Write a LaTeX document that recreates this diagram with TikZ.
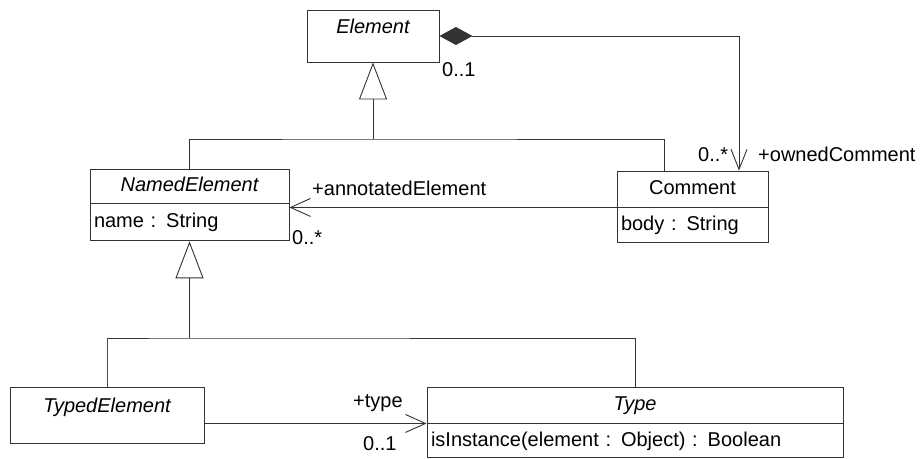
\documentclass[tikz,border=0pt]{standalone}
\usepackage{fontspec}
\setmainfont{Liberation Sans}
\usetikzlibrary{positioning,arrows.meta}

\definecolor{linkred}{RGB}{170,30,70}

\tikzset{
    uml/.style={draw=black!80, line width=0.9pt},
    txt/.style={font=\fontsize{20}{24}\selectfont},
    cls/.style={uml, txt, font=\fontsize{20}{24}\selectfont\itshape, text height=15pt, text depth=4pt, inner sep=0pt},
    attr/.style={uml, txt, text height=15pt, text depth=4pt, inner xsep=4pt, inner ysep=0pt, align=left},
    lbl/.style={txt, inner sep=0pt, anchor=base west},
    gen/.style={uml, -{Triangle[open, length=37pt, width=28pt]}},
    assoc/.style={uml, -{Straight Barb[length=20pt, width=18pt]}},
    comp/.style={uml, {Diamond[length=33pt, width=18pt]}-{Straight Barb[length=20pt, width=16pt]}}
}

\begin{document}
\begin{tikzpicture}[x=1pt, y=-1pt]
    \fill[white] (0,0) rectangle (922,458);

    % classes
    \node[cls, minimum width=132pt, minimum height=52pt, text depth=21pt] (elem) at (373,36) {Element};

    \node[cls, minimum width=199pt, minimum height=34pt] (namedhead) at (189.5,186) {NamedElement};
    \node[attr, text width=191pt, minimum height=37pt, below=0pt of namedhead] (namedbody) {name : String};

    \node[cls, font=\fontsize{20}{24}\selectfont, minimum width=151pt, minimum height=36pt] (commenthead) at (692.5,189) {Comment};
    \node[attr, text width=143pt, minimum height=35pt, below=0pt of commenthead] (commentbody) {body : String};

    \node[cls, minimum width=194pt, minimum height=56pt, text depth=21pt] (typedelem) at (107,415) {TypedElement};

    \node[cls, minimum width=416pt, minimum height=36pt] (typehead) at (635,405) {Type};
    \node[attr, text width=408pt, minimum height=34pt, below=0pt of typehead] (typebody) {isInstance(element : Object) : Boolean};

    % generalizations
    \coordinate (topjoin) at (373,139);
    \draw[gen] (topjoin) -- (elem.south);
    \draw[uml] (namedhead.north) |- (topjoin) -| ([xshift=-28.5pt]commenthead.north);

    \coordinate (lowjoin) at (189.5,338);
    \coordinate (typedjoin) at (107,338);
    \draw[gen] (lowjoin) -- (namedbody.south);
    \draw[uml] (typedjoin) -- (lowjoin) -| (typehead.north);
    \draw[uml, draw=linkred] (typedjoin) -- (typedelem.north);

    % associations
    \draw[comp] (elem.east) -| ([xshift=46.5pt]commenthead.north);
    \draw[assoc] (commentbody.north west) -- (commentbody.north west -| namedbody.east);
    \draw[assoc] (typedelem.east |- typehead.south) -- (typehead.south west);

    % role names and multiplicities
    \node[lbl] (owner) at (442,76) {0..1};
    \node[lbl] (ownedmult) at (698,161) {0..*};
    \node[lbl] (ownedrole) at (758,161) {+ownedComment};
    \node[lbl] (annotrole) at (312,195) {+annotatedElement};
    \node[lbl] (annotmult) at (292,244) {0..*};
    \node[lbl] (typerole) at (353,407) {+type};
    \node[lbl] (typemult) at (363,450) {0..1};
\end{tikzpicture}
\end{document}
